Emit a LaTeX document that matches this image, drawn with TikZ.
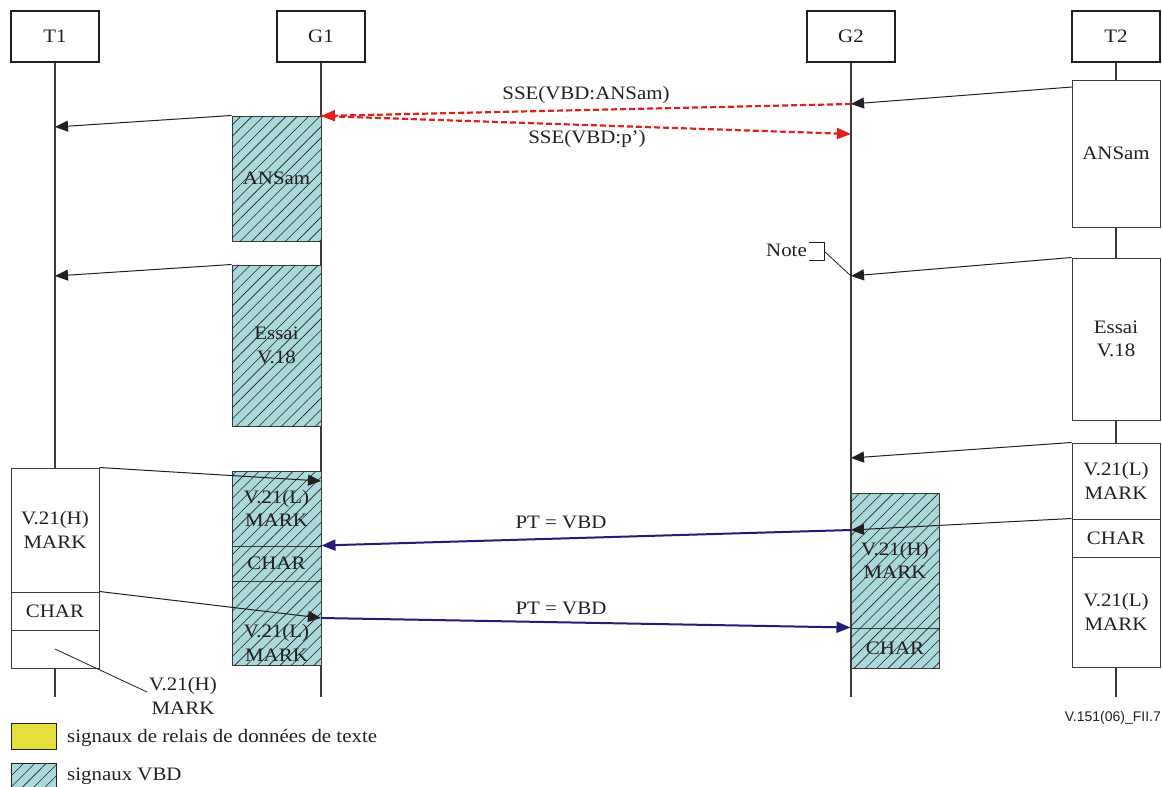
\documentclass[tikz,border=0pt]{standalone}
\usepackage{fontspec}
\setmainfont{Liberation Serif}[FakeStretch=1.1]
\newfontfamily\figsans{Liberation Sans}
\usetikzlibrary{arrows.meta,patterns.meta}
\definecolor{vbd}{HTML}{A9D9DA}
\definecolor{ttr}{HTML}{E6DE3C}
\definecolor{ssered}{HTML}{E0201C}
\definecolor{ptblue}{HTML}{231C78}
\definecolor{lifegray}{HTML}{3A3A3A}
\definecolor{ink}{HTML}{231F20}
\begin{document}
\begin{tikzpicture}[x=1pt,y=-1pt,
  every node/.style={font=\fontsize{19}{23.5}\selectfont, text=ink, align=center},
  head/.style={draw=ink, line width=2.4pt, minimum width=88pt, minimum height=51pt, inner sep=0pt},
  blk/.style={draw=lifegray, line width=1pt, fill=white, minimum width=88pt, inner sep=0pt},
  hatch/.style={blk, fill=vbd, postaction={pattern={Lines[angle=45,distance=8pt,line width=0.6pt]}, pattern color=ink}},
  life/.style={draw=lifegray, line width=1.3pt},
  msg/.style={draw=ink, line width=1pt, -{Triangle[length=13pt,width=11pt]}},
  sse/.style={draw=ssered, line width=2.2pt, dash pattern=on 6pt off 3pt, -{Triangle[length=14pt,width=11pt]}},
  pt/.style={draw=ptblue, line width=2pt, -{Triangle[length=14pt,width=11pt]}}
]
\useasboundingbox (0,0) rectangle (1162,787);

% headers
\node[head] (hT1) at (55,36.5) {T1};
\node[head] (hG1) at (321,36.5) {G1};
\node[head] (hG2) at (851,36.5) {G2};
\node[head] (hT2) at (1116,36.5) {T2};

% lifeline ends
\coordinate (eT1) at (55,697);
\coordinate (eG1) at (321,697);
\coordinate (eG2) at (851,697);
\coordinate (eT2) at (1116,697);
\draw[life] (hT1.south) -- (eT1);
\draw[life] (hG1.south) -- (eG1);
\draw[life] (hG2.south) -- (eG2);
\draw[life] (hT2.south) -- (eT2);

% G1 column
\node[hatch, minimum width=89pt, minimum height=125pt] (g1ans) at (276.5,178.5) {ANSam};
\node[hatch, minimum width=89pt, minimum height=161pt] (g1essai) at (276.5,345.5) {Essai\\V.18};
\node[hatch, minimum width=89pt, minimum height=75pt] (g1mark1) at (276.5,508.5) {V.21(L)\\MARK};
\node[hatch, minimum width=89pt, minimum height=35pt] (g1char) at (276.5,563.5) {CHAR};
\node[hatch, minimum width=89pt, minimum height=84pt] (g1mark2) at (276.5,623) {};
\node (g1mark2t) at (276.5,643) {V.21(L)\\MARK};

% G2 column
\node[hatch, minimum height=135pt] (g2mark) at (895,560.5) {V.21(H)\\MARK};
\node[hatch, minimum height=40pt] (g2char) at (895,648) {CHAR};

% T2 column
\node[blk, minimum height=147pt] (t2ans) at (1116,153.5) {ANSam};
\node[blk, minimum height=162pt] (t2essai) at (1116,339) {Essai\\V.18};
\node[blk, minimum height=76pt] (t2mark1) at (1116,481) {V.21(L)\\MARK};
\node[blk, minimum height=38pt] (t2char) at (1116,538) {CHAR};
\node[blk, minimum height=110pt] (t2mark2) at (1116,612) {V.21(L)\\MARK};

% T1 column
\node[blk, minimum height=124pt] (t1mark) at (55,530) {V.21(H)\\MARK};
\node[blk, minimum height=38pt] (t1char) at (55,611) {CHAR};
\node[blk, minimum height=38pt] (t1empty) at (55,649) {};

% message points
\coordinate (t2s1) at (1072,87);
\coordinate (g2p1) at (851,104);
\coordinate (g1p1) at (321,116);
\coordinate (g2p2) at (851,134);
\coordinate (t1p1) at (55,127);
\coordinate (t1p2) at (55,276);
\coordinate (g2p3) at (851,276);
\coordinate (g2p4) at (851,458);
\coordinate (g1p2) at (321,481);
\coordinate (g2p5) at (851,530);
\coordinate (g1p3) at (321,618);

% messages
\draw[msg] (t2s1) -- (g2p1);
\draw[sse] (g2p1) -- (g1p1);
\draw[sse] (g1p1) -- (g2p2);
\node (lsse1) at (586,95) {SSE(VBD:ANSam)};
\node (lsse2) at (587,139) {SSE(VBD:p')};
\draw[msg] (g1ans.north west) -- (t1p1);
\draw[msg] (g1essai.north west) -- (t1p2);
\draw[msg] (t2essai.north west) -- (g2p3);
\draw[msg] (t2mark1.north west) -- (g2p4);
\draw[msg] (t1mark.north east) -- (g1p2);
\draw[msg] (t2char.north west) -- (g2p5);
\draw[pt] (g2p5) -- (g1char.north east);
\node (lpt1) at (561,522) {PT = VBD};
\draw[msg] (t1char.north east) -- (g1p3);
\draw[pt] (g1p3) -- (g2char.north west);
\node (lpt2) at (561,608) {PT = VBD};

% note
\node[anchor=east, inner sep=0pt] (note) at (807,250) {Note};
\draw[ink, line width=0.8pt] (809,242) -- (824,242) -- (824,260) -- (809,260);
\coordinate (notec) at (824,251);
\draw[ink, line width=0.8pt] (notec) -- (g2p3);

% bottom label
\coordinate (t1lab) at (55,649);
\node (hmark) at (183,696) {V.21(H)\\MARK};
\coordinate (hmarkc) at (147,692);
\draw[ink, line width=0.8pt] (t1lab) -- (hmarkc);

% figure id
\node[anchor=east, font=\figsans\fontsize{14}{16}\selectfont, inner sep=0pt] (figid) at (1161,718) {V.151(06)\_FII.7};

% legend
\node[draw=ink, line width=1pt, fill=ttr, minimum width=45pt, minimum height=26pt, inner sep=0pt] (legy) at (33.5,736) {};
\node[anchor=west, inner sep=0pt] (legyt) at (67,738) {signaux de relais de données de texte};
\node[hatch, draw=ink, minimum width=45pt, minimum height=24pt] (legh) at (33.5,775) {};
\node[anchor=west, inner sep=0pt] (leght) at (67,776) {signaux VBD};
\end{tikzpicture}
\end{document}
